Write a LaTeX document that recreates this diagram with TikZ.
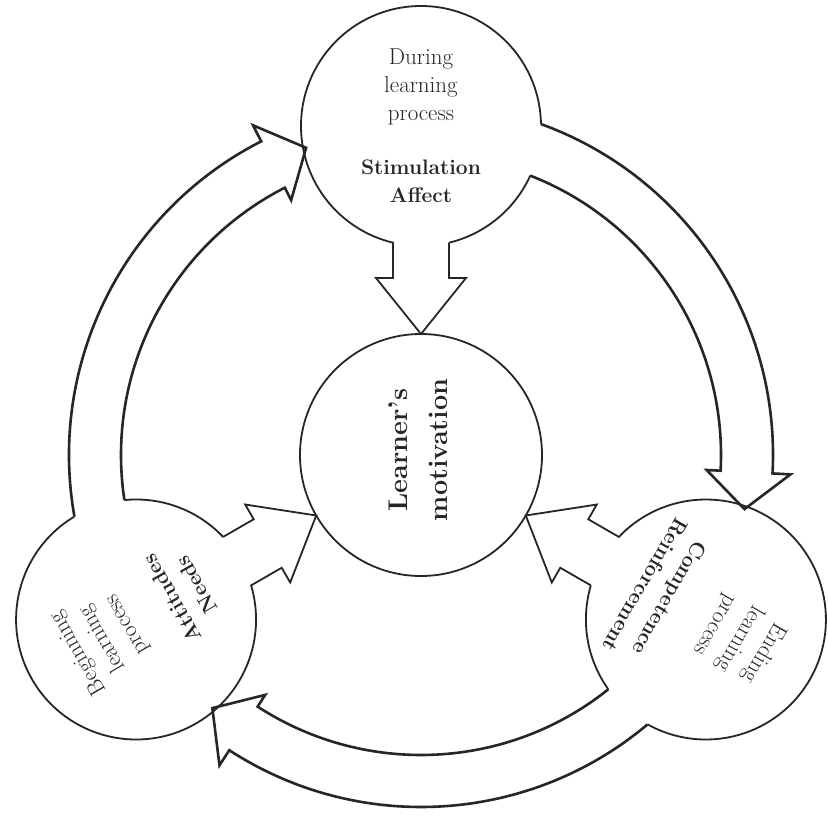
\documentclass[tikz,border=0pt]{standalone}
\begin{document}
\begin{tikzpicture}[x=1pt,y=1pt]
\definecolor{ink}{HTML}{262626}
\tikzset{
  ring/.style={draw=ink, line width=1.8pt, line join=miter},
  bigarrow/.style={draw=ink, line width=2.6pt, line join=miter},
  circtext/.style={text=ink, align=center, font=\fontsize{23}{28}\selectfont},
  hub/.style={circle, draw=ink, line width=1.8pt, minimum size=242pt, inner sep=0pt, outer sep=0pt},
  outercirc/.style={circle, minimum size=240pt, inner sep=0pt, outer sep=0pt},
}
\fill[white] (-421,-360) rectangle (407,455);
\useasboundingbox (-421,-360) rectangle (407,455);
\node[hub] (hub) at (0,0) {};
\node[rotate=90, text=ink, align=center, font=\fontsize{27}{40}\selectfont\bfseries] (hubtext) at (-3,5) {Learner’s\\motivation};
\foreach \rot/\nm/\xa/\xb/\xc/\xd/\xe in {0/during/During/learning/process/Stimulation/Affect, 120/begin/Beginning/learning/process/Attitudes/Needs, 240/ending/Ending/learning/process/Competence/Reinforcement}{
  \begin{scope}[rotate=\rot]
    \node[outercirc] (\nm) at (90:329) {};
    \node[circtext, rotate=\rot] (\nm-t) at (90:329) {\xa\\\xb\\\xc\\[26pt]{\fontsize{21}{28}\selectfont\bfseries\xd}\\{\fontsize{21}{28}\selectfont\bfseries\xe}};
    \draw[ring] (28,212.31) arc[start angle=-76.51, end angle=-24.42, radius=120];
    \draw[ring] (119.98,330.93) arc[start angle=0.92, end angle=256.51, radius=120]
      -- (-28,177) -- (-45,177) -- (0,121) -- (45,177) -- (28,177) -- (28,212.31);
    \draw[bigarrow] (68.64:300) arc[start angle=68.64, end angle=-3, radius=300]
      -- (-3:286) -- (-9.5:328) -- (-3:370) -- (-3:352)
      arc[start angle=-3, end angle=70.07, radius=352];
  \end{scope}
}
\end{tikzpicture}
\end{document}
